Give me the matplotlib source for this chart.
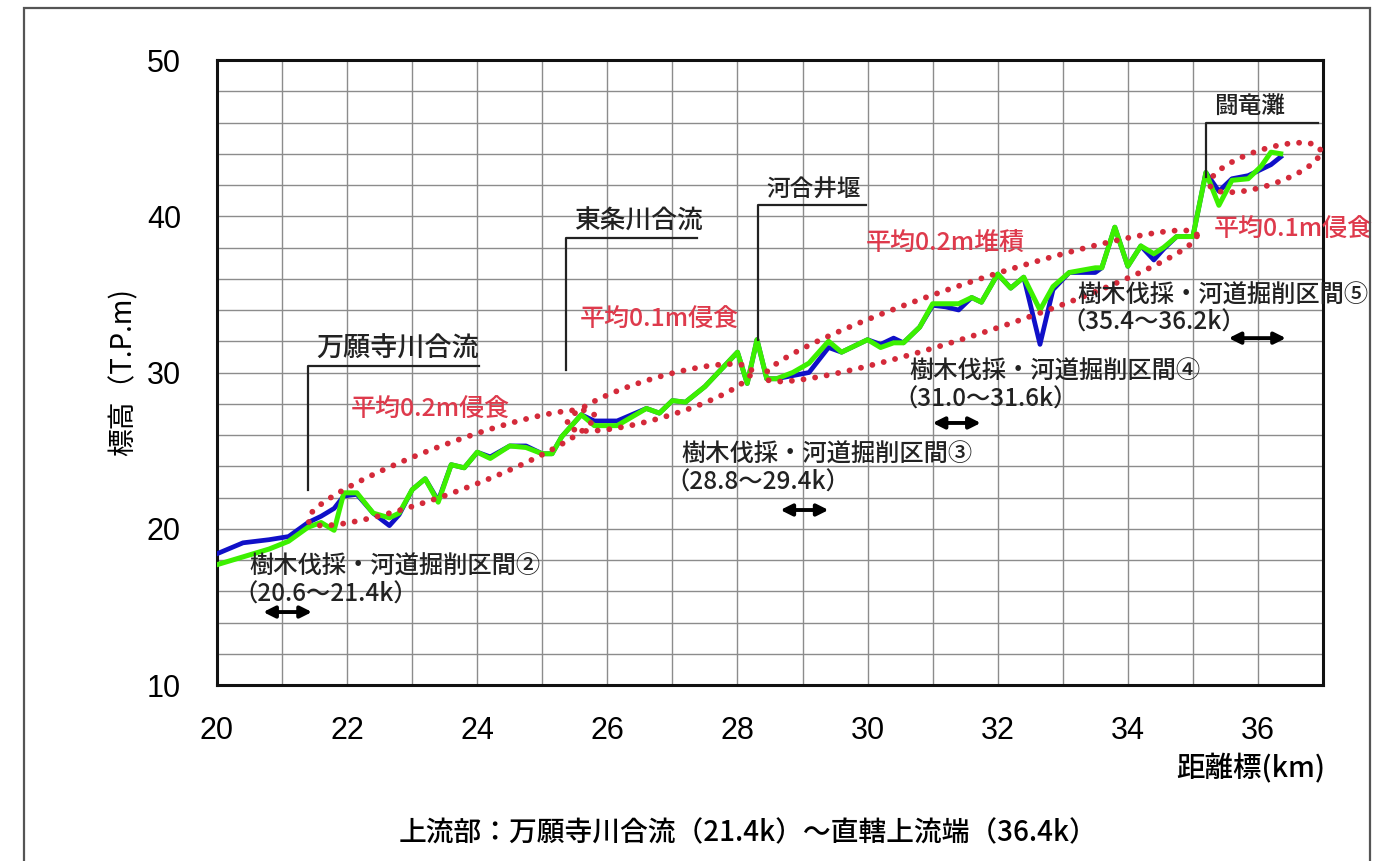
import numpy as np
import matplotlib
matplotlib.use("Agg")
import matplotlib.pyplot as plt
from matplotlib.patches import Rectangle

plt.rcParams['font.family'] = ['Noto Sans CJK JP', 'DejaVu Sans']
plt.rcParams['font.weight'] = 'medium'

# distance marker (km)
km = [20.0, 20.4, 20.8, 21.1, 21.4, 21.6, 21.8, 21.95, 22.15, 22.4, 22.65, 22.8,
      23.0, 23.2, 23.4, 23.6, 23.8, 24.0, 24.2, 24.5, 24.75, 25.0, 25.15, 25.3,
      25.6, 25.8, 26.15, 26.6, 26.8, 27.0, 27.2, 27.5, 28.0, 28.15, 28.3, 28.45,
      28.6, 28.85, 29.1, 29.4, 29.6, 30.0, 30.2, 30.4, 30.55, 30.8, 31.0, 31.2,
      31.4, 31.6, 31.75, 32.0, 32.2, 32.4, 32.65, 32.85, 33.1, 33.5, 33.6, 33.8,
      34.0, 34.2, 34.4, 34.55, 34.75, 35.0, 35.2, 35.4, 35.6, 35.85, 36.05, 36.2,
      36.35]

# mean bed elevation, earlier survey (T.P.m)
bed_prev = [18.4, 19.1, 19.3, 19.5, 20.4, 20.8, 21.3, 22.1, 22.2, 21.0, 20.2, 20.9,
            22.5, 23.2, 21.8, 24.1, 23.9, 24.9, 24.6, 25.3, 25.3, 24.8, 24.8, 25.9,
            27.3, 26.9, 26.9, 27.7, 27.4, 28.2, 28.1, 29.1, 31.3, 29.3, 32.1, 29.6,
            29.6, 29.8, 30.0, 31.6, 31.3, 32.1, 31.8, 32.2, 31.9, 32.9, 34.3, 34.2,
            34.0, 34.8, 34.5, 36.3, 35.4, 36.1, 31.8, 35.3, 36.4, 36.4, 36.7, 39.3,
            36.8, 38.1, 37.2, 37.9, 38.7, 38.7, 42.8, 41.6, 42.4, 42.6, 43.0, 43.3,
            43.8]

# mean bed elevation, later survey (T.P.m)
bed_curr = [17.7, 18.2, 18.7, 19.2, 20.1, 20.4, 19.9, 22.3, 22.3, 21.0, 20.7, 21.0,
            22.5, 23.2, 21.7, 24.1, 23.9, 24.9, 24.5, 25.3, 25.2, 24.8, 24.8, 25.9,
            27.3, 26.6, 26.6, 27.7, 27.4, 28.2, 28.1, 29.1, 31.3, 29.3, 32.1, 29.6,
            29.6, 30.0, 30.6, 32.0, 31.3, 32.1, 31.6, 31.9, 31.9, 32.9, 34.4, 34.4,
            34.4, 34.8, 34.5, 36.3, 35.4, 36.1, 34.0, 35.5, 36.4, 36.7, 36.7, 39.3,
            36.8, 38.1, 37.6, 38.0, 38.7, 38.7, 42.8, 40.7, 42.3, 42.4, 43.2, 44.1,
            44.0]

x_ticks = [20, 22, 24, 26, 28, 30, 32, 34, 36]
y_ticks = [10, 20, 30, 40, 50]

# landmarks: name, position (km)
landmark_names = ["万願寺川合流", "東条川合流", "河合井堰", "闘竜灘"]
landmark_km = [21.4, 25.37, 28.32, 35.2]

# change-of-bed annotations
bed_change_labels = ["平均0.2m侵食", "平均0.1m侵食", "平均0.2m堆積", "平均0.1m侵食"]

# tree-clearing / channel-excavation sections
works_titles = ["樹木伐採・河道掘削区間②", "樹木伐採・河道掘削区間③",
                "樹木伐採・河道掘削区間④", "樹木伐採・河道掘削区間⑤"]
works_ranges = ["（20.6～21.4k）", "（28.8～29.4k）", "（31.0～31.6k）", "（35.4～36.2k）"]

RED = '#DE3A4C'
INK = '#222222'

fig = plt.figure(figsize=(13.79, 8.61), dpi=100)
fig.patches.append(Rectangle((0.0174, -0.05), 0.9761, 1.0407, transform=fig.transFigure,
                             fill=False, edgecolor='#555555', linewidth=1.6))

ax = fig.add_axes([0.15736, 0.20441, 0.80203, 0.72590])
ax.set_xlim(20, 37)
ax.set_ylim(10, 50)

ax.set_xticks(x_ticks)
ax.set_xticks(np.arange(20, 38, 1), minor=True)
ax.set_yticks(y_ticks)
ax.set_yticks(np.arange(10, 51, 2), minor=True)
ax.grid(which='both', color='#8c8c8c', linewidth=1.0)
ax.set_axisbelow(True)
ax.tick_params(which='both', length=0)
ax.tick_params(axis='y', pad=26)
ax.tick_params(axis='x', pad=22)
for lab in ax.get_xticklabels() + ax.get_yticklabels():
    lab.set_fontfamily(['Liberation Sans', 'DejaVu Sans'])
    lab.set_fontsize(22)
for s in ax.spines.values():
    s.set_linewidth(2.2)
    s.set_color('#111111')

ax.plot(km, bed_prev, color='#1010C8', linewidth=3.4, solid_joinstyle='round', zorder=3)
ax.plot(km, bed_curr, color='#3CF000', linewidth=3.6, solid_joinstyle='round', zorder=4)


def dotted_ellipse(cx, cy, length_px, width_px, angle_deg):
    """Red dotted ellipse centred on (cx, cy) in data units, sized in pixels."""
    t = np.linspace(0, 2 * np.pi, 600)
    c = ax.transData.transform((cx, cy))
    a = np.deg2rad(angle_deg)
    u = length_px / 2 * np.cos(t)
    v = width_px / 2 * np.sin(t)
    px = c[0] + u * np.cos(a) - v * np.sin(a)
    py = c[1] + u * np.sin(a) + v * np.cos(a)
    pts = ax.transData.inverted().transform(np.column_stack([px, py]))
    ax.plot(pts[:, 0], pts[:, 1], color='#D42A3A', linewidth=4.2,
            linestyle=(0, (0.01, 2.0)), dash_capstyle='round', zorder=5, clip_on=False)


# ellipses: centre (km, m), length px, width px, angle
ellipses = [(23.6, 23.9, 305, 48, 20.4), (26.8, 28.4, 192, 40, 16.6),
            (31.74, 34.26, 455, 52, 18.3), (36.11, 43.12, 116, 36, 18.0)]
label_pos = [(22.05, 27.6), (25.58, 33.4), (29.97, 38.3), (35.32, 39.1)]
for text, (tx, ty), ell in zip(bed_change_labels, label_pos, ellipses):
    dotted_ellipse(*ell)
    ax.text(tx, ty, text, color=RED, fontsize=18, va='center', ha='left', zorder=6,
            clip_on=False)

# callout lines: bottom / top elevation and end of the horizontal leg
callouts = [(22.5, 30.4, 24.02), (30.15, 38.6, 27.38), (32.1, 40.7, 29.98), (42.5, 46.0, 36.92)]
callout_size = [19.5, 18.5, 17, 17]
for name, xk, (y0, y1, xend), fs in zip(landmark_names, landmark_km, callouts, callout_size):
    ax.plot([xk, xk, xend], [y0, y1, y1], color=INK, linewidth=1.6, zorder=6)
    ax.text(xk + 0.12, y1 + 0.2, name, fontsize=fs, ha='left', va='bottom', color=INK,
            zorder=6)

# text x, title y, range y, arrow y, arrow start / end
works_layout = [(20.5, 17.55, 15.76, 14.67, 20.71, 21.46),
                (27.14, 24.72, 22.93, 21.2, 28.66, 29.4),
                (30.64, 30.03, 28.24, 26.77, 31.0, 31.74),
                (33.22, 34.9, 33.17, 32.2, 35.55, 36.43)]
for title, rng, (tx, ty, ry, ay, a0, a1) in zip(works_titles, works_ranges, works_layout):
    ax.text(tx, ty, title, fontsize=17.5, ha='left', va='center', color=INK, zorder=6,
            clip_on=False)
    ax.text(tx - 0.24, ry, rng, fontsize=17.5, ha='left', va='center', color=INK, zorder=6)
    ax.annotate('', xy=(a1, ay), xytext=(a0, ay),
                arrowprops=dict(arrowstyle='<|-|>', color='black', lw=2.8,
                                mutation_scale=17, shrinkA=0, shrinkB=0), zorder=6)

ax.set_ylabel('標高（T.P.m)', fontsize=20)
ax.yaxis.set_label_coords(-0.071, 0.5)
fig.text(1325 / 1379, 1 - 768 / 861, '距離標(km)', fontsize=20.5, ha='right', va='center')
fig.text(748 / 1379, 1 - 833 / 861, '上流部：万願寺川合流（21.4k）～直轄上流端（36.4k）',
         fontsize=20, ha='center', va='center')

fig.savefig('out.png', dpi=100)
